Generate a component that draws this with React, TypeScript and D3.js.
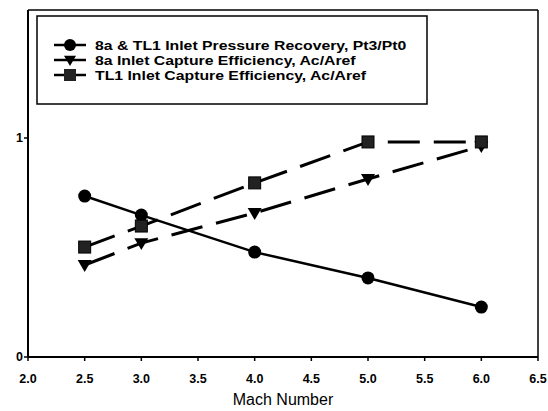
import React from "react";
import * as d3 from "d3";

const mach = [2.5, 3.0, 4.0, 5.0, 6.0];
const pressureRecovery = [0.735, 0.648, 0.479, 0.361, 0.228];
const capture8a = [0.42, 0.52, 0.658, 0.813, 0.963];
const captureTL1 = [0.502, 0.598, 0.795, 0.982, 0.982];
const xTicks = [2.0, 2.5, 3.0, 3.5, 4.0, 4.5, 5.0, 5.5, 6.0, 6.5];
const yTicks = [0, 1];
const legendLabels = [
  "8a & TL1 Inlet Pressure Recovery, Pt3/Pt0",
  "8a Inlet Capture Efficiency, Ac/Aref",
  "TL1 Inlet Capture Efficiency, Ac/Aref",
];

const W = 548;
const H = 411;

export default function App() {
  const x = d3.scaleLinear().domain([2.0, 6.5]).range([28, 538]);
  const y = d3.scaleLinear().domain([0, 1]).range([357, 138]);
  const yTop = y(1.585);

  const line = d3
    .line<[number, number]>()
    .x((d) => x(d[0]))
    .y((d) => y(d[1]));

  const s1 = mach.map((m, i) => [m, pressureRecovery[i]] as [number, number]);
  const s2 = mach.map((m, i) => [m, capture8a[i]] as [number, number]);
  const s3 = mach.map((m, i) => [m, captureTL1[i]] as [number, number]);

  const tri = (cx: number, cy: number, s = 7) =>
    `M${cx - s},${cy - s * 0.7}L${cx + s},${cy - s * 0.7}L${cx},${cy + s * 1.0}Z`;

  const font = "'Liberation Sans', Arial, sans-serif";

  return (
    <svg
      width={W}
      height={H}
      style={{ position: "absolute", left: 0, top: 0, background: "#fff" }}
      fontFamily={font}
    >
      <rect x={0} y={0} width={W} height={H} fill="#fff" />
      {/* frame */}
      <line x1={x(2)} x2={x(6.5)} y1={yTop} y2={yTop} stroke="#000" strokeWidth={1.5} />
      <line x1={x(6.5)} x2={x(6.5)} y1={yTop} y2={y(0)} stroke="#000" strokeWidth={1.5} />
      <line x1={x(2)} x2={x(2)} y1={yTop} y2={y(0)} stroke="#000" strokeWidth={2} />
      <line x1={x(2)} x2={x(6.5)} y1={y(0)} y2={y(0)} stroke="#000" strokeWidth={2} />

      {/* x ticks */}
      {xTicks.map((t) => (
        <g key={t}>
          <line x1={x(t)} x2={x(t)} y1={y(0)} y2={y(0) + 4} stroke="#000" strokeWidth={1.5} />
          <text
            x={x(t)}
            y={y(0) + 26}
            textAnchor="middle"
            fontSize={12.5}
            fontWeight="bold"
          >
            {t.toFixed(1)}
          </text>
        </g>
      ))}
      {/* y ticks */}
      {yTicks.map((t) => (
        <g key={t}>
          <line x1={x(2) - 4} x2={x(2)} y1={y(t)} y2={y(t)} stroke="#000" strokeWidth={1.5} />
          <text x={x(2) - 5} y={y(t) + 4} textAnchor="end" fontSize={12.5} fontWeight="bold">
            {t}
          </text>
        </g>
      ))}
      <text x={283} y={405} textAnchor="middle" fontSize={16}>
        Mach Number
      </text>

      {/* series */}
      <path d={line(s3) || ""} fill="none" stroke="#000" strokeWidth={3} strokeDasharray="32,14" />
      <path d={line(s2) || ""} fill="none" stroke="#000" strokeWidth={3} strokeDasharray="32,14" />
      <path d={line(s1) || ""} fill="none" stroke="#000" strokeWidth={2.5} />

      {s1.map((d, i) => (
        <circle key={"c" + i} cx={x(d[0])} cy={y(d[1])} r={6.5} fill="#000" />
      ))}
      {s2.map((d, i) => (
        <path key={"t" + i} d={tri(x(d[0]), y(d[1]))} fill="#000" />
      ))}
      {s3.map((d, i) => (
        <rect
          key={"s" + i}
          x={x(d[0]) - 6}
          y={y(d[1]) - 6}
          width={12}
          height={12}
          fill="#222"
          stroke="#000"
          strokeWidth={1}
        />
      ))}

      {/* legend */}
      <rect x={37} y={16} width={390} height={88} fill="#fff" stroke="#000" strokeWidth={1.5} />
      {legendLabels.map((lab, i) => {
        const ly = 45 + i * 15;
        return (
          <g key={lab}>
            <line x1={54} x2={86} y1={ly} y2={ly} stroke="#000" strokeWidth={2.5} />
            {i === 0 && <circle cx={70} cy={ly} r={6} fill="#000" />}
            {i === 1 && <path d={tri(70, ly, 6)} fill="#000" />}
            {i === 2 && <rect x={64} y={ly - 6} width={12} height={12} fill="#222" />}
            <text
              transform={`translate(95, ${ly + 5}) scale(1.17, 1)`}
              fontSize={13.5}
              fontWeight="bold"
            >
              {lab}
            </text>
          </g>
        );
      })}
    </svg>
  );
}
